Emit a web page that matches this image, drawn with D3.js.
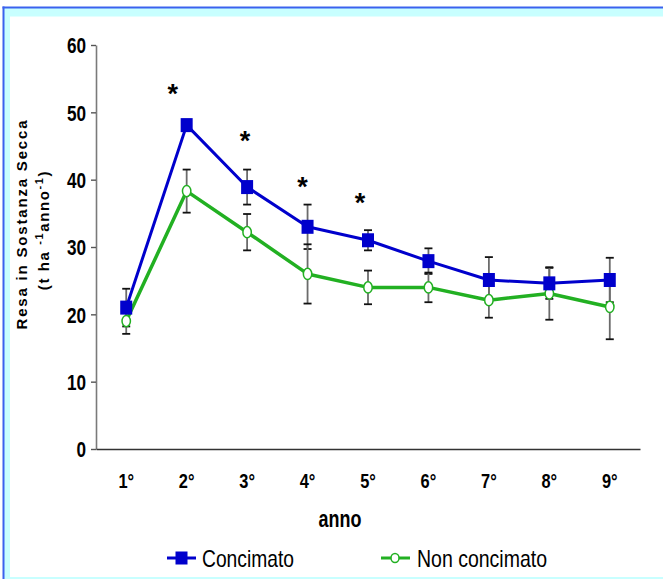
<!DOCTYPE html>
<html>
<head>
<meta charset="utf-8">
<script src="https://cdn.jsdelivr.net/npm/d3@7"></script>
<style>
  html, body { margin: 0; padding: 0; background: #ffffff; }
  svg { display: block; }
</style>
</head>
<body>
<svg id="chart" width="663" height="579"></svg>
<script>
// Yield of dry matter per year, fertilised vs. unfertilised plots
const years = ["1°", "2°", "3°", "4°", "5°", "6°", "7°", "8°", "9°"];
const concimato = [21.0, 48.1, 38.9, 33.0, 31.0, 27.9, 25.1, 24.6, 25.1];
const concimatoErr = [2.8, 0.8, 2.6, 3.3, 1.5, 1.9, 3.4, 2.3, 3.3];
const nonConcimato = [19.0, 38.3, 32.2, 26.0, 24.0, 24.0, 22.1, 23.1, 21.1];
const nonConcimatoErr = [1.9, 3.2, 2.7, 4.4, 2.5, 2.2, 2.6, 3.9, 4.8];
const yTicks = [0, 10, 20, 30, 40, 50, 60];
// Years with a significant difference, and the height of the marker
const sigYears = ["2°", "3°", "4°", "5°"];
const sigLevel = [53.6, 46.6, 39.8, 37.5];
const seriesNames = ["Concimato", "Non concimato"];

const BLUE = "#0000cc";
const GREEN = "#22b022";

const svg = d3.select("#chart");

// Pick a condensed face when one is installed, otherwise squeeze the regular one
function textWidth(family, weight) {
  const t = svg.append("text").attr("font-family", family).attr("font-weight", weight)
    .attr("font-size", 40).text("Concimato 0123456789");
  const w = t.node().getComputedTextLength();
  t.remove();
  return w;
}
const narrowAvailable = textWidth("'Liberation Sans Narrow'", "bold") < 0.9 * textWidth("'Liberation Sans'", "bold");
const NARROW = narrowAvailable ? "'Liberation Sans Narrow', 'Arial Narrow', sans-serif" : "'Liberation Sans', Arial, sans-serif";
const SQUEEZE = narrowAvailable ? 1 : 0.78;
function squeeze(sel) {
  sel.each(function () {
    const w = this.getComputedTextLength();
    d3.select(this).attr("textLength", w * SQUEEZE).attr("lengthAdjust", "spacingAndGlyphs");
  });
}

// Frame
svg.append("rect").attr("x", 0).attr("y", 0).attr("width", 663).attr("height", 579).attr("fill", "#ffffff");
svg.append("rect").attr("x", 4).attr("y", 8).attr("width", 659).attr("height", 8.5).attr("fill", "#c8ffff");
svg.append("rect").attr("x", 4).attr("y", 8).attr("width", 6).attr("height", 571).attr("fill", "#c8ffff");
svg.append("rect").attr("x", 4).attr("y", 577).attr("width", 659).attr("height", 2).attr("fill", "#c8ffff");
svg.append("rect").attr("x", 2.5).attr("y", 6.5).attr("width", 660.5).attr("height", 2).attr("fill", "#3a62ee");
svg.append("rect").attr("x", 2.5).attr("y", 6.5).attr("width", 2).attr("height", 572.5).attr("fill", "#3a62ee");

// Scales
const x = d3.scaleBand().domain(years).range([96, 640]);
const cx = d => x(d) + x.bandwidth() / 2;
const y = d3.scaleLinear().domain([0, 60]).range([449, 45]);

// Y axis
const yAxis = svg.append("g").attr("transform", "translate(96,0)")
  .call(d3.axisLeft(y).tickValues(yTicks).tickSize(5).tickSizeOuter(0).tickPadding(5));
yAxis.select(".domain").attr("stroke", "#7a7a7a").attr("stroke-width", 1.6);
yAxis.selectAll(".tick line").attr("stroke", "#555").attr("stroke-width", 1.4);
yAxis.selectAll(".tick text")
  .attr("font-family", NARROW).attr("font-weight", "bold").attr("font-size", 22)
  .attr("fill", "#000").attr("dy", "0.36em")
  .call(squeeze);

// X axis
const xAxis = svg.append("g").attr("transform", `translate(0,${y(0)})`)
  .call(d3.axisBottom(x).tickSize(0).tickSizeOuter(0));
xAxis.select(".domain").attr("stroke", "#333").attr("stroke-width", 1.6);
xAxis.selectAll(".tick text")
  .attr("font-family", NARROW).attr("font-weight", "bold").attr("font-size", 21)
  .attr("fill", "#000").attr("y", 39).attr("dy", 0)
  .call(squeeze);

// Axis titles
svg.append("text").attr("x", 340).attr("y", 527).attr("text-anchor", "middle")
  .attr("font-family", NARROW).attr("font-weight", "bold").attr("font-size", 23)
  .text("anno").call(squeeze);

const yTitle = svg.append("g").attr("transform", "translate(27,225) rotate(-90)");
yTitle.append("text").attr("x", 0).attr("y", 0).attr("text-anchor", "middle")
  .attr("font-family", "'Liberation Sans', Arial, sans-serif").attr("font-weight", "bold")
  .attr("font-size", 15).attr("textLength", 209).attr("lengthAdjust", "spacing")
  .text("Resa in Sostanza Secca");
const unit = yTitle.append("text").attr("x", -5).attr("y", 22).attr("text-anchor", "middle")
  .attr("font-family", "'Liberation Sans', Arial, sans-serif").attr("font-weight", "bold")
  .attr("font-size", 15).attr("letter-spacing", 1.6);
unit.append("tspan").text("(t ha ");
unit.append("tspan").attr("font-size", 11).attr("baseline-shift", "super").text("-1");
unit.append("tspan").text("anno");
unit.append("tspan").attr("font-size", 11).attr("baseline-shift", "super").text("-1");
unit.append("tspan").text(")");

// Series
const series = [
  { name: seriesNames[0], values: concimato, err: concimatoErr, color: BLUE, width: 3 },
  { name: seriesNames[1], values: nonConcimato, err: nonConcimatoErr, color: GREEN, width: 3.5 }
];

// Error bars
const eb = svg.append("g");
series.forEach(s => {
  years.forEach((yr, i) => {
    const g = eb.append("g");
    const top = y(s.values[i] + s.err[i]), bot = y(s.values[i] - s.err[i]);
    g.append("line").attr("x1", cx(yr)).attr("x2", cx(yr)).attr("y1", top).attr("y2", bot)
      .attr("stroke", "#6b6b6b").attr("stroke-width", 1.8);
    [top, bot].forEach(v => g.append("line").attr("x1", cx(yr) - 4).attr("x2", cx(yr) + 4)
      .attr("y1", v).attr("y2", v).attr("stroke", "#111").attr("stroke-width", 1.8));
  });
});

// Lines
const line = d3.line().x((d, i) => cx(years[i])).y(d => y(d));
series.slice().reverse().forEach(s => {
  svg.append("path").datum(s.values).attr("d", line).attr("fill", "none")
    .attr("stroke", s.color).attr("stroke-width", s.width).attr("stroke-linejoin", "round");
});

// Markers
svg.append("g").selectAll("ellipse").data(nonConcimato).join("ellipse")
  .attr("cx", (d, i) => cx(years[i])).attr("cy", d => y(d)).attr("rx", 4.2).attr("ry", 5.6)
  .attr("fill", "#fff").attr("stroke", GREEN).attr("stroke-width", 1.5);
svg.append("g").selectAll("rect").data(concimato).join("rect")
  .attr("x", (d, i) => cx(years[i]) - 6).attr("y", d => y(d) - 7)
  .attr("width", 12).attr("height", 14).attr("fill", BLUE);

// Significance markers
const starDx = [-14, -2, -5, -8];
svg.append("g").selectAll("text").data(sigYears).join("text")
  .attr("x", (d, i) => cx(d) + starDx[i]).attr("y", (d, i) => y(sigLevel[i]) + 15)
  .attr("text-anchor", "middle").attr("font-family", "'Liberation Sans', Arial, sans-serif")
  .attr("font-weight", "bold").attr("font-size", 27).text("*");

// Legend
const leg = svg.append("g");
leg.append("line").attr("x1", 167).attr("x2", 196).attr("y1", 558).attr("y2", 558)
  .attr("stroke", BLUE).attr("stroke-width", 3);
leg.append("rect").attr("x", 175.5).attr("y", 551.5).attr("width", 12).attr("height", 13).attr("fill", BLUE);
leg.append("text").attr("x", 202).attr("y", 567).attr("font-family", NARROW)
  .attr("font-size", 24).text(seriesNames[0]).attr("textLength", 92).attr("lengthAdjust", "spacingAndGlyphs");
leg.append("line").attr("x1", 381).attr("x2", 410).attr("y1", 558).attr("y2", 558)
  .attr("stroke", GREEN).attr("stroke-width", 3);
leg.append("ellipse").attr("cx", 395).attr("cy", 558).attr("rx", 4).attr("ry", 4.5)
  .attr("fill", "#fff").attr("stroke", GREEN).attr("stroke-width", 1.5);
leg.append("text").attr("x", 417).attr("y", 567).attr("font-family", NARROW)
  .attr("font-size", 24).text(seriesNames[1]).attr("textLength", 130).attr("lengthAdjust", "spacingAndGlyphs");
</script>
</body>
</html>
